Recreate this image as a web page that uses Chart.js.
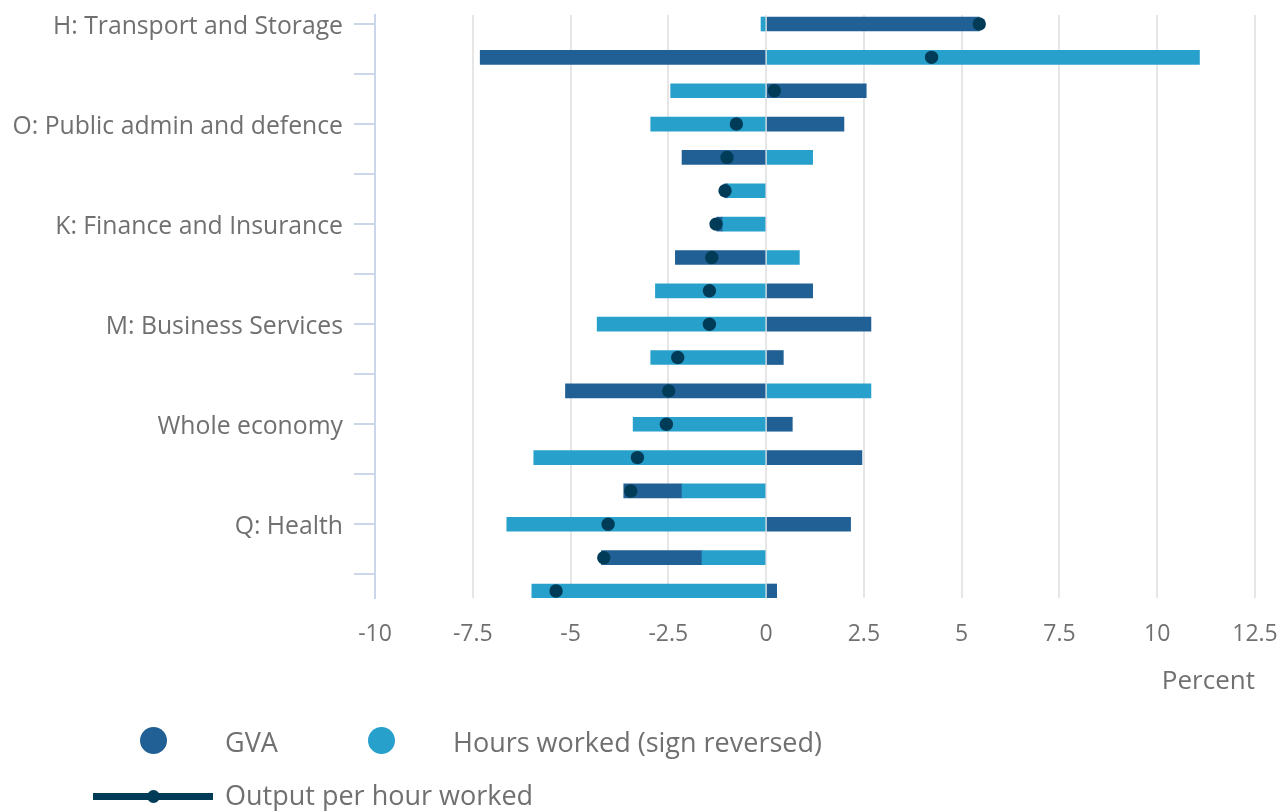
<!DOCTYPE html>
<html>
<head>
<meta charset="utf-8">
<script src="https://cdn.jsdelivr.net/npm/chart.js@4.4.1/dist/chart.umd.min.js"></script>
<style>
  body { margin: 0; background: #fff; font-family: 'Open Sans', sans-serif; color: #707071; }
  #wrap { position: relative; width: 1286px; height: 811px; }
  .lg { position: absolute; font-size: 27px; line-height: 34px; white-space: nowrap; }
  .dot { position: absolute; border-radius: 50%; }
</style>
</head>
<body>
<div id="wrap">
  <canvas id="chart"></canvas>
  <div class="dot" style="left:140px;top:727px;width:27px;height:27px;background:#206095"></div>
  <div class="lg" style="left:225px;top:725px">GVA</div>
  <div class="dot" style="left:368px;top:727px;width:27px;height:27px;background:#27a0cc"></div>
  <div class="lg" style="left:453px;top:725px">Hours worked (sign reversed)</div>
  <div style="position:absolute;left:93px;top:793px;width:120px;height:7px;background:#003c57"></div>
  <div class="dot" style="left:147px;top:790px;width:13px;height:13px;background:#003c57"></div>
  <div class="lg" style="left:225px;top:778px">Output per hour worked</div>
</div>
<script>
// one label per tick, ticks every 1.5 rows
const tickLabels = ["H: Transport and Storage", "", "O: Public admin and defence", "",
  "K: Finance and Insurance", "", "M: Business Services", "", "Whole economy", "", "Q: Health", ""];

const gva = [5.45, -7.31, 2.56, 1.99, -2.15, -0.08, -0.15, -2.32, 1.19, 2.68, 0.44, -5.13, 0.67, 2.45, -1.49, 2.16, -2.57, 0.27];
const hours = [-0.13, 11.08, -2.44, -2.95, 1.19, -0.98, -1.11, 0.85, -2.83, -4.32, -2.95, 2.68, -3.40, -5.94, -2.15, -6.63, -1.64, -5.99];
const outputPerHour = [5.45, 4.23, 0.21, -0.76, -1.0, -1.05, -1.28, -1.39, -1.45, -1.45, -2.26, -2.49, -2.55, -3.29, -3.46, -4.04, -4.15, -5.37];

const xTicks = [-10, -7.5, -5, -2.5, 0, 2.5, 5, 7.5, 10, 12.5];

const toPoints = arr => arr.map((v, i) => ({ x: v, y: i }));

Chart.defaults.font.family = "'Open Sans', sans-serif";
Chart.defaults.color = '#707071';

new Chart(document.getElementById('chart'), {
  type: 'bar',
  data: {
    datasets: [
      { label: 'Hours worked (sign reversed)', data: toPoints(hours), backgroundColor: '#27a0cc', stack: 's', barThickness: 14, order: 1 },
      { label: 'GVA', data: toPoints(gva), backgroundColor: '#206095', stack: 's', barThickness: 14, order: 1 },
      { type: 'scatter', label: 'Output per hour worked', data: toPoints(outputPerHour), backgroundColor: '#003c57',
        pointRadius: 6.7, pointHoverRadius: 6.7, borderWidth: 0, order: 0, clip: false }
    ]
  },
  options: {
    indexAxis: 'y',
    responsive: true,
    maintainAspectRatio: false,
    animation: false,
    layout: { padding: { left: 0, right: 31, top: 15, bottom: 111 } },
    plugins: { legend: { display: false }, tooltip: { enabled: false } },
    scales: {
      x: {
        type: 'linear',
        stacked: true,
        min: -10,
        max: 12.5,
        afterBuildTicks: s => { s.ticks = xTicks.map(v => ({ value: v })); },
        afterFit: s => { s.height = 102; s.paddingLeft = 0; s.paddingRight = 0; },
        grid: { color: '#e6e6e6', lineWidth: 2, drawTicks: false },
        border: { display: false },
        ticks: { font: { size: 23 }, padding: 23, callback: v => String(v) },
        title: { display: true, text: 'Percent', align: 'end', font: { size: 26 }, padding: { top: 0, bottom: 3 } }
      },
      y: {
        type: 'linear',
        stacked: true,
        reverse: true,
        offset: false,
        min: -0.27,
        max: 17.21,
        afterBuildTicks: s => { s.ticks = tickLabels.map((t, i) => ({ value: i * 1.5 })); },
        afterFit: s => { s.width = 375; s.paddingTop = 0; s.paddingBottom = 0; },
        grid: { offset: false, drawOnChartArea: false, color: '#ccd6eb', lineWidth: 2, tickLength: 21 },
        border: { color: '#ccd6eb', width: 2 },
        ticks: { font: { size: 24.75 }, padding: 11, labelOffset: 3, callback: (v, i) => tickLabels[i] }
      }
    }
  }
});
</script>
</body>
</html>
